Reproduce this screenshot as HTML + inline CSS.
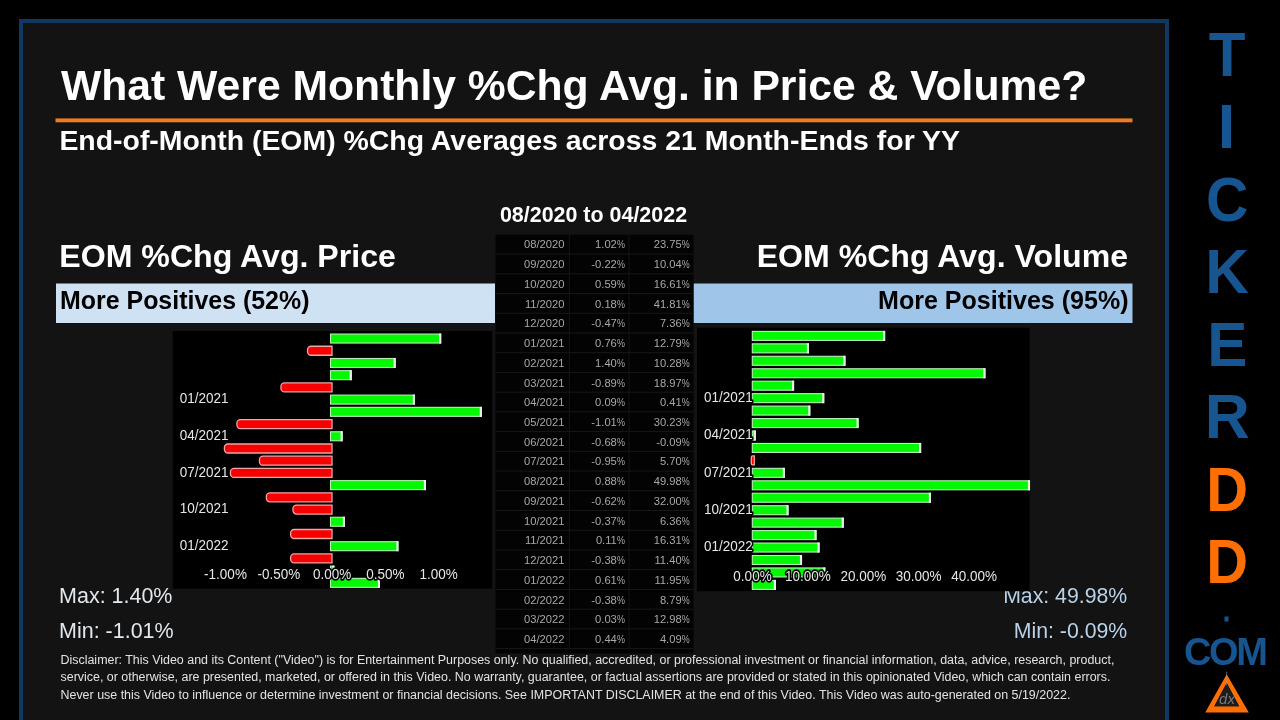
<!DOCTYPE html>
<html><head><meta charset="utf-8"><style>
html,body{margin:0;padding:0;background:#000;width:1280px;height:720px;overflow:hidden}
svg{display:block;will-change:transform}
text{font-family:"Liberation Sans", sans-serif}
</style></head><body>
<svg width="1280" height="720" viewBox="0 0 1280 720">
<rect x="0" y="0" width="1280" height="720" fill="#000"/>
<rect x="21" y="21" width="1146" height="720" fill="#131313" stroke="#0f3862" stroke-width="4"/>
<text x="61" y="99.5" font-size="42.67" fill="#fff" font-weight="bold" text-anchor="start" >What Were Monthly %Chg Avg. in Price &amp; Volume?</text>
<rect x="55.5" y="118.4" width="1077" height="3.9" fill="#ef7a22"/>
<text x="59.4" y="150" font-size="28.43" fill="#fff" font-weight="bold" text-anchor="start" >End-of-Month (EOM) %Chg Averages across 21 Month-Ends for YY</text>
<text x="593.5" y="221.7" font-size="21.45" fill="#fff" font-weight="bold" text-anchor="middle" >08/2020 to 04/2022</text>
<text x="59.3" y="267" font-size="32.12" fill="#fff" font-weight="bold" text-anchor="start" >EOM %Chg Avg. Price</text>
<text x="1128" y="267" font-size="32.1" fill="#fff" font-weight="bold" text-anchor="end" >EOM %Chg Avg. Volume</text>
<rect x="56" y="283.5" width="439" height="39.5" fill="#cfe2f3"/>
<rect x="693.5" y="283.5" width="439" height="39.5" fill="#9fc5e8"/>
<text x="60" y="309" font-size="24.95" fill="#000" font-weight="bold" text-anchor="start" >More Positives (52%)</text>
<text x="1128.5" y="309" font-size="25.04" fill="#000" font-weight="bold" text-anchor="end" >More Positives (95%)</text>
<text x="59.1" y="603" font-size="21.47" fill="#e2e8ee" font-weight="normal" text-anchor="start" >Max: 1.40%</text>
<text x="59.1" y="637.5" font-size="21.47" fill="#e2e8ee" font-weight="normal" text-anchor="start" >Min: -1.01%</text>
<text x="1127.2" y="603" font-size="21.25" fill="#b9d3ea" font-weight="normal" text-anchor="end" >Max: 49.98%</text>
<text x="1127.2" y="637.5" font-size="21.25" fill="#b9d3ea" font-weight="normal" text-anchor="end" >Min: -0.09%</text>
<rect x="495.5" y="234.8" width="198" height="418.53" fill="#030303"/>
<rect x="495.5" y="253.53" width="198" height="1" fill="#181818"/>
<rect x="495.5" y="273.26" width="198" height="1" fill="#181818"/>
<rect x="495.5" y="292.99" width="198" height="1" fill="#181818"/>
<rect x="495.5" y="312.72" width="198" height="1" fill="#181818"/>
<rect x="495.5" y="332.45000000000005" width="198" height="1" fill="#181818"/>
<rect x="495.5" y="352.18" width="198" height="1" fill="#181818"/>
<rect x="495.5" y="371.91" width="198" height="1" fill="#181818"/>
<rect x="495.5" y="391.64" width="198" height="1" fill="#181818"/>
<rect x="495.5" y="411.37" width="198" height="1" fill="#181818"/>
<rect x="495.5" y="431.1" width="198" height="1" fill="#181818"/>
<rect x="495.5" y="450.83000000000004" width="198" height="1" fill="#181818"/>
<rect x="495.5" y="470.56" width="198" height="1" fill="#181818"/>
<rect x="495.5" y="490.29" width="198" height="1" fill="#181818"/>
<rect x="495.5" y="510.02000000000004" width="198" height="1" fill="#181818"/>
<rect x="495.5" y="529.75" width="198" height="1" fill="#181818"/>
<rect x="495.5" y="549.48" width="198" height="1" fill="#181818"/>
<rect x="495.5" y="569.21" width="198" height="1" fill="#181818"/>
<rect x="495.5" y="588.94" width="198" height="1" fill="#181818"/>
<rect x="495.5" y="608.6700000000001" width="198" height="1" fill="#181818"/>
<rect x="495.5" y="628.4000000000001" width="198" height="1" fill="#181818"/>
<rect x="495.5" y="648.13" width="198" height="1" fill="#181818"/>
<rect x="568.8" y="234.8" width="1" height="414.33" fill="#141414"/>
<rect x="628.5" y="234.8" width="1" height="414.33" fill="#141414"/>
<text transform="translate(564.5,248.4) scale(1,1.04)" x="0" y="0" font-size="11.2" fill="#a8a8a8" font-weight="normal" text-anchor="end" >08/2020</text>
<text transform="translate(624.90,248.40) scale(0.8,1.04)" x="0" y="0" font-size="11.2" fill="#a8a8a8" text-anchor="end">%</text>
<text transform="translate(616.84,248.4) scale(1,1.04)" x="0" y="0" font-size="11.2" fill="#a8a8a8" font-weight="normal" text-anchor="end" >1.02</text>
<text transform="translate(689.70,248.40) scale(0.8,1.04)" x="0" y="0" font-size="11.2" fill="#a8a8a8" text-anchor="end">%</text>
<text transform="translate(681.64,248.4) scale(1,1.04)" x="0" y="0" font-size="11.2" fill="#a8a8a8" font-weight="normal" text-anchor="end" >23.75</text>
<text transform="translate(564.5,268.13) scale(1,1.04)" x="0" y="0" font-size="11.2" fill="#a8a8a8" font-weight="normal" text-anchor="end" >09/2020</text>
<text transform="translate(624.90,268.13) scale(0.8,1.04)" x="0" y="0" font-size="11.2" fill="#a8a8a8" text-anchor="end">%</text>
<text transform="translate(616.84,268.13) scale(1,1.04)" x="0" y="0" font-size="11.2" fill="#a8a8a8" font-weight="normal" text-anchor="end" >-0.22</text>
<text transform="translate(689.70,268.13) scale(0.8,1.04)" x="0" y="0" font-size="11.2" fill="#a8a8a8" text-anchor="end">%</text>
<text transform="translate(681.64,268.13) scale(1,1.04)" x="0" y="0" font-size="11.2" fill="#a8a8a8" font-weight="normal" text-anchor="end" >10.04</text>
<text transform="translate(564.5,287.86) scale(1,1.04)" x="0" y="0" font-size="11.2" fill="#a8a8a8" font-weight="normal" text-anchor="end" >10/2020</text>
<text transform="translate(624.90,287.86) scale(0.8,1.04)" x="0" y="0" font-size="11.2" fill="#a8a8a8" text-anchor="end">%</text>
<text transform="translate(616.84,287.86) scale(1,1.04)" x="0" y="0" font-size="11.2" fill="#a8a8a8" font-weight="normal" text-anchor="end" >0.59</text>
<text transform="translate(689.70,287.86) scale(0.8,1.04)" x="0" y="0" font-size="11.2" fill="#a8a8a8" text-anchor="end">%</text>
<text transform="translate(681.64,287.86) scale(1,1.04)" x="0" y="0" font-size="11.2" fill="#a8a8a8" font-weight="normal" text-anchor="end" >16.61</text>
<text transform="translate(564.5,307.59000000000003) scale(1,1.04)" x="0" y="0" font-size="11.2" fill="#a8a8a8" font-weight="normal" text-anchor="end" >11/2020</text>
<text transform="translate(624.90,307.59) scale(0.8,1.04)" x="0" y="0" font-size="11.2" fill="#a8a8a8" text-anchor="end">%</text>
<text transform="translate(616.84,307.59000000000003) scale(1,1.04)" x="0" y="0" font-size="11.2" fill="#a8a8a8" font-weight="normal" text-anchor="end" >0.18</text>
<text transform="translate(689.70,307.59) scale(0.8,1.04)" x="0" y="0" font-size="11.2" fill="#a8a8a8" text-anchor="end">%</text>
<text transform="translate(681.64,307.59000000000003) scale(1,1.04)" x="0" y="0" font-size="11.2" fill="#a8a8a8" font-weight="normal" text-anchor="end" >41.81</text>
<text transform="translate(564.5,327.32000000000005) scale(1,1.04)" x="0" y="0" font-size="11.2" fill="#a8a8a8" font-weight="normal" text-anchor="end" >12/2020</text>
<text transform="translate(624.90,327.32) scale(0.8,1.04)" x="0" y="0" font-size="11.2" fill="#a8a8a8" text-anchor="end">%</text>
<text transform="translate(616.84,327.32000000000005) scale(1,1.04)" x="0" y="0" font-size="11.2" fill="#a8a8a8" font-weight="normal" text-anchor="end" >-0.47</text>
<text transform="translate(689.70,327.32) scale(0.8,1.04)" x="0" y="0" font-size="11.2" fill="#a8a8a8" text-anchor="end">%</text>
<text transform="translate(681.64,327.32000000000005) scale(1,1.04)" x="0" y="0" font-size="11.2" fill="#a8a8a8" font-weight="normal" text-anchor="end" >7.36</text>
<text transform="translate(564.5,347.05000000000007) scale(1,1.04)" x="0" y="0" font-size="11.2" fill="#a8a8a8" font-weight="normal" text-anchor="end" >01/2021</text>
<text transform="translate(624.90,347.05) scale(0.8,1.04)" x="0" y="0" font-size="11.2" fill="#a8a8a8" text-anchor="end">%</text>
<text transform="translate(616.84,347.05000000000007) scale(1,1.04)" x="0" y="0" font-size="11.2" fill="#a8a8a8" font-weight="normal" text-anchor="end" >0.76</text>
<text transform="translate(689.70,347.05) scale(0.8,1.04)" x="0" y="0" font-size="11.2" fill="#a8a8a8" text-anchor="end">%</text>
<text transform="translate(681.64,347.05000000000007) scale(1,1.04)" x="0" y="0" font-size="11.2" fill="#a8a8a8" font-weight="normal" text-anchor="end" >12.79</text>
<text transform="translate(564.5,366.78000000000003) scale(1,1.04)" x="0" y="0" font-size="11.2" fill="#a8a8a8" font-weight="normal" text-anchor="end" >02/2021</text>
<text transform="translate(624.90,366.78) scale(0.8,1.04)" x="0" y="0" font-size="11.2" fill="#a8a8a8" text-anchor="end">%</text>
<text transform="translate(616.84,366.78000000000003) scale(1,1.04)" x="0" y="0" font-size="11.2" fill="#a8a8a8" font-weight="normal" text-anchor="end" >1.40</text>
<text transform="translate(689.70,366.78) scale(0.8,1.04)" x="0" y="0" font-size="11.2" fill="#a8a8a8" text-anchor="end">%</text>
<text transform="translate(681.64,366.78000000000003) scale(1,1.04)" x="0" y="0" font-size="11.2" fill="#a8a8a8" font-weight="normal" text-anchor="end" >10.28</text>
<text transform="translate(564.5,386.51000000000005) scale(1,1.04)" x="0" y="0" font-size="11.2" fill="#a8a8a8" font-weight="normal" text-anchor="end" >03/2021</text>
<text transform="translate(624.90,386.51) scale(0.8,1.04)" x="0" y="0" font-size="11.2" fill="#a8a8a8" text-anchor="end">%</text>
<text transform="translate(616.84,386.51000000000005) scale(1,1.04)" x="0" y="0" font-size="11.2" fill="#a8a8a8" font-weight="normal" text-anchor="end" >-0.89</text>
<text transform="translate(689.70,386.51) scale(0.8,1.04)" x="0" y="0" font-size="11.2" fill="#a8a8a8" text-anchor="end">%</text>
<text transform="translate(681.64,386.51000000000005) scale(1,1.04)" x="0" y="0" font-size="11.2" fill="#a8a8a8" font-weight="normal" text-anchor="end" >18.97</text>
<text transform="translate(564.5,406.24) scale(1,1.04)" x="0" y="0" font-size="11.2" fill="#a8a8a8" font-weight="normal" text-anchor="end" >04/2021</text>
<text transform="translate(624.90,406.24) scale(0.8,1.04)" x="0" y="0" font-size="11.2" fill="#a8a8a8" text-anchor="end">%</text>
<text transform="translate(616.84,406.24) scale(1,1.04)" x="0" y="0" font-size="11.2" fill="#a8a8a8" font-weight="normal" text-anchor="end" >0.09</text>
<text transform="translate(689.70,406.24) scale(0.8,1.04)" x="0" y="0" font-size="11.2" fill="#a8a8a8" text-anchor="end">%</text>
<text transform="translate(681.64,406.24) scale(1,1.04)" x="0" y="0" font-size="11.2" fill="#a8a8a8" font-weight="normal" text-anchor="end" >0.41</text>
<text transform="translate(564.5,425.97) scale(1,1.04)" x="0" y="0" font-size="11.2" fill="#a8a8a8" font-weight="normal" text-anchor="end" >05/2021</text>
<text transform="translate(624.90,425.97) scale(0.8,1.04)" x="0" y="0" font-size="11.2" fill="#a8a8a8" text-anchor="end">%</text>
<text transform="translate(616.84,425.97) scale(1,1.04)" x="0" y="0" font-size="11.2" fill="#a8a8a8" font-weight="normal" text-anchor="end" >-1.01</text>
<text transform="translate(689.70,425.97) scale(0.8,1.04)" x="0" y="0" font-size="11.2" fill="#a8a8a8" text-anchor="end">%</text>
<text transform="translate(681.64,425.97) scale(1,1.04)" x="0" y="0" font-size="11.2" fill="#a8a8a8" font-weight="normal" text-anchor="end" >30.23</text>
<text transform="translate(564.5,445.70000000000005) scale(1,1.04)" x="0" y="0" font-size="11.2" fill="#a8a8a8" font-weight="normal" text-anchor="end" >06/2021</text>
<text transform="translate(624.90,445.70) scale(0.8,1.04)" x="0" y="0" font-size="11.2" fill="#a8a8a8" text-anchor="end">%</text>
<text transform="translate(616.84,445.70000000000005) scale(1,1.04)" x="0" y="0" font-size="11.2" fill="#a8a8a8" font-weight="normal" text-anchor="end" >-0.68</text>
<text transform="translate(689.70,445.70) scale(0.8,1.04)" x="0" y="0" font-size="11.2" fill="#a8a8a8" text-anchor="end">%</text>
<text transform="translate(681.64,445.70000000000005) scale(1,1.04)" x="0" y="0" font-size="11.2" fill="#a8a8a8" font-weight="normal" text-anchor="end" >-0.09</text>
<text transform="translate(564.5,465.43000000000006) scale(1,1.04)" x="0" y="0" font-size="11.2" fill="#a8a8a8" font-weight="normal" text-anchor="end" >07/2021</text>
<text transform="translate(624.90,465.43) scale(0.8,1.04)" x="0" y="0" font-size="11.2" fill="#a8a8a8" text-anchor="end">%</text>
<text transform="translate(616.84,465.43000000000006) scale(1,1.04)" x="0" y="0" font-size="11.2" fill="#a8a8a8" font-weight="normal" text-anchor="end" >-0.95</text>
<text transform="translate(689.70,465.43) scale(0.8,1.04)" x="0" y="0" font-size="11.2" fill="#a8a8a8" text-anchor="end">%</text>
<text transform="translate(681.64,465.43000000000006) scale(1,1.04)" x="0" y="0" font-size="11.2" fill="#a8a8a8" font-weight="normal" text-anchor="end" >5.70</text>
<text transform="translate(564.5,485.16) scale(1,1.04)" x="0" y="0" font-size="11.2" fill="#a8a8a8" font-weight="normal" text-anchor="end" >08/2021</text>
<text transform="translate(624.90,485.16) scale(0.8,1.04)" x="0" y="0" font-size="11.2" fill="#a8a8a8" text-anchor="end">%</text>
<text transform="translate(616.84,485.16) scale(1,1.04)" x="0" y="0" font-size="11.2" fill="#a8a8a8" font-weight="normal" text-anchor="end" >0.88</text>
<text transform="translate(689.70,485.16) scale(0.8,1.04)" x="0" y="0" font-size="11.2" fill="#a8a8a8" text-anchor="end">%</text>
<text transform="translate(681.64,485.16) scale(1,1.04)" x="0" y="0" font-size="11.2" fill="#a8a8a8" font-weight="normal" text-anchor="end" >49.98</text>
<text transform="translate(564.5,504.89000000000004) scale(1,1.04)" x="0" y="0" font-size="11.2" fill="#a8a8a8" font-weight="normal" text-anchor="end" >09/2021</text>
<text transform="translate(624.90,504.89) scale(0.8,1.04)" x="0" y="0" font-size="11.2" fill="#a8a8a8" text-anchor="end">%</text>
<text transform="translate(616.84,504.89000000000004) scale(1,1.04)" x="0" y="0" font-size="11.2" fill="#a8a8a8" font-weight="normal" text-anchor="end" >-0.62</text>
<text transform="translate(689.70,504.89) scale(0.8,1.04)" x="0" y="0" font-size="11.2" fill="#a8a8a8" text-anchor="end">%</text>
<text transform="translate(681.64,504.89000000000004) scale(1,1.04)" x="0" y="0" font-size="11.2" fill="#a8a8a8" font-weight="normal" text-anchor="end" >32.00</text>
<text transform="translate(564.5,524.62) scale(1,1.04)" x="0" y="0" font-size="11.2" fill="#a8a8a8" font-weight="normal" text-anchor="end" >10/2021</text>
<text transform="translate(624.90,524.62) scale(0.8,1.04)" x="0" y="0" font-size="11.2" fill="#a8a8a8" text-anchor="end">%</text>
<text transform="translate(616.84,524.62) scale(1,1.04)" x="0" y="0" font-size="11.2" fill="#a8a8a8" font-weight="normal" text-anchor="end" >-0.37</text>
<text transform="translate(689.70,524.62) scale(0.8,1.04)" x="0" y="0" font-size="11.2" fill="#a8a8a8" text-anchor="end">%</text>
<text transform="translate(681.64,524.62) scale(1,1.04)" x="0" y="0" font-size="11.2" fill="#a8a8a8" font-weight="normal" text-anchor="end" >6.36</text>
<text transform="translate(564.5,544.35) scale(1,1.04)" x="0" y="0" font-size="11.2" fill="#a8a8a8" font-weight="normal" text-anchor="end" >11/2021</text>
<text transform="translate(624.90,544.35) scale(0.8,1.04)" x="0" y="0" font-size="11.2" fill="#a8a8a8" text-anchor="end">%</text>
<text transform="translate(616.84,544.35) scale(1,1.04)" x="0" y="0" font-size="11.2" fill="#a8a8a8" font-weight="normal" text-anchor="end" >0.11</text>
<text transform="translate(689.70,544.35) scale(0.8,1.04)" x="0" y="0" font-size="11.2" fill="#a8a8a8" text-anchor="end">%</text>
<text transform="translate(681.64,544.35) scale(1,1.04)" x="0" y="0" font-size="11.2" fill="#a8a8a8" font-weight="normal" text-anchor="end" >16.31</text>
<text transform="translate(564.5,564.08) scale(1,1.04)" x="0" y="0" font-size="11.2" fill="#a8a8a8" font-weight="normal" text-anchor="end" >12/2021</text>
<text transform="translate(624.90,564.08) scale(0.8,1.04)" x="0" y="0" font-size="11.2" fill="#a8a8a8" text-anchor="end">%</text>
<text transform="translate(616.84,564.08) scale(1,1.04)" x="0" y="0" font-size="11.2" fill="#a8a8a8" font-weight="normal" text-anchor="end" >-0.38</text>
<text transform="translate(689.70,564.08) scale(0.8,1.04)" x="0" y="0" font-size="11.2" fill="#a8a8a8" text-anchor="end">%</text>
<text transform="translate(681.64,564.08) scale(1,1.04)" x="0" y="0" font-size="11.2" fill="#a8a8a8" font-weight="normal" text-anchor="end" >11.40</text>
<text transform="translate(564.5,583.8100000000001) scale(1,1.04)" x="0" y="0" font-size="11.2" fill="#a8a8a8" font-weight="normal" text-anchor="end" >01/2022</text>
<text transform="translate(624.90,583.81) scale(0.8,1.04)" x="0" y="0" font-size="11.2" fill="#a8a8a8" text-anchor="end">%</text>
<text transform="translate(616.84,583.8100000000001) scale(1,1.04)" x="0" y="0" font-size="11.2" fill="#a8a8a8" font-weight="normal" text-anchor="end" >0.61</text>
<text transform="translate(689.70,583.81) scale(0.8,1.04)" x="0" y="0" font-size="11.2" fill="#a8a8a8" text-anchor="end">%</text>
<text transform="translate(681.64,583.8100000000001) scale(1,1.04)" x="0" y="0" font-size="11.2" fill="#a8a8a8" font-weight="normal" text-anchor="end" >11.95</text>
<text transform="translate(564.5,603.5400000000001) scale(1,1.04)" x="0" y="0" font-size="11.2" fill="#a8a8a8" font-weight="normal" text-anchor="end" >02/2022</text>
<text transform="translate(624.90,603.54) scale(0.8,1.04)" x="0" y="0" font-size="11.2" fill="#a8a8a8" text-anchor="end">%</text>
<text transform="translate(616.84,603.5400000000001) scale(1,1.04)" x="0" y="0" font-size="11.2" fill="#a8a8a8" font-weight="normal" text-anchor="end" >-0.38</text>
<text transform="translate(689.70,603.54) scale(0.8,1.04)" x="0" y="0" font-size="11.2" fill="#a8a8a8" text-anchor="end">%</text>
<text transform="translate(681.64,603.5400000000001) scale(1,1.04)" x="0" y="0" font-size="11.2" fill="#a8a8a8" font-weight="normal" text-anchor="end" >8.79</text>
<text transform="translate(564.5,623.2700000000001) scale(1,1.04)" x="0" y="0" font-size="11.2" fill="#a8a8a8" font-weight="normal" text-anchor="end" >03/2022</text>
<text transform="translate(624.90,623.27) scale(0.8,1.04)" x="0" y="0" font-size="11.2" fill="#a8a8a8" text-anchor="end">%</text>
<text transform="translate(616.84,623.2700000000001) scale(1,1.04)" x="0" y="0" font-size="11.2" fill="#a8a8a8" font-weight="normal" text-anchor="end" >0.03</text>
<text transform="translate(689.70,623.27) scale(0.8,1.04)" x="0" y="0" font-size="11.2" fill="#a8a8a8" text-anchor="end">%</text>
<text transform="translate(681.64,623.2700000000001) scale(1,1.04)" x="0" y="0" font-size="11.2" fill="#a8a8a8" font-weight="normal" text-anchor="end" >12.98</text>
<text transform="translate(564.5,643.0000000000001) scale(1,1.04)" x="0" y="0" font-size="11.2" fill="#a8a8a8" font-weight="normal" text-anchor="end" >04/2022</text>
<text transform="translate(624.90,643.00) scale(0.8,1.04)" x="0" y="0" font-size="11.2" fill="#a8a8a8" text-anchor="end">%</text>
<text transform="translate(616.84,643.0000000000001) scale(1,1.04)" x="0" y="0" font-size="11.2" fill="#a8a8a8" font-weight="normal" text-anchor="end" >0.44</text>
<text transform="translate(689.70,643.00) scale(0.8,1.04)" x="0" y="0" font-size="11.2" fill="#a8a8a8" text-anchor="end">%</text>
<text transform="translate(681.64,643.0000000000001) scale(1,1.04)" x="0" y="0" font-size="11.2" fill="#a8a8a8" font-weight="normal" text-anchor="end" >4.09</text>
<rect x="172.75" y="331" width="319.5" height="257.7" fill="#000"/>
<rect x="330.50" y="334.05" width="110.20" height="9.00" fill="#04f804" stroke="#b4f2b4" stroke-width="1.1"/>
<rect x="439.10" y="333.55" width="2.1" height="10.00" fill="#e6f6e6"/>
<path d="M311.05 346.26 H332.00 V355.26 H311.05 A3.5 3.5 0 0 1 307.55 351.76 V349.76 A3.5 3.5 0 0 1 311.05 346.26 Z" fill="#f60000" stroke="#f0a4a4" stroke-width="1.3"/>
<rect x="330.50" y="358.48" width="64.70" height="9.00" fill="#04f804" stroke="#b4f2b4" stroke-width="1.1"/>
<rect x="393.60" y="357.98" width="2.1" height="10.00" fill="#e6f6e6"/>
<rect x="330.50" y="370.69" width="20.75" height="9.00" fill="#04f804" stroke="#b4f2b4" stroke-width="1.1"/>
<rect x="349.65" y="370.19" width="2.1" height="10.00" fill="#e6f6e6"/>
<path d="M284.45 382.91 H332.00 V391.91 H284.45 A3.5 3.5 0 0 1 280.95 388.41 V386.41 A3.5 3.5 0 0 1 284.45 382.91 Z" fill="#f60000" stroke="#f0a4a4" stroke-width="1.3"/>
<rect x="330.50" y="395.12" width="83.95" height="9.00" fill="#04f804" stroke="#b4f2b4" stroke-width="1.1"/>
<rect x="412.85" y="394.62" width="2.1" height="10.00" fill="#e6f6e6"/>
<rect x="330.50" y="407.34" width="150.85" height="9.00" fill="#04f804" stroke="#b4f2b4" stroke-width="1.1"/>
<rect x="479.75" y="406.84" width="2.1" height="10.00" fill="#e6f6e6"/>
<path d="M240.40 419.56 H332.00 V428.56 H240.40 A3.5 3.5 0 0 1 236.90 425.06 V423.06 A3.5 3.5 0 0 1 240.40 419.56 Z" fill="#f60000" stroke="#f0a4a4" stroke-width="1.3"/>
<rect x="330.50" y="431.77" width="11.65" height="9.00" fill="#04f804" stroke="#b4f2b4" stroke-width="1.1"/>
<rect x="340.55" y="431.27" width="2.1" height="10.00" fill="#e6f6e6"/>
<path d="M227.90 443.99 H332.00 V452.99 H227.90 A3.5 3.5 0 0 1 224.40 449.49 V447.49 A3.5 3.5 0 0 1 227.90 443.99 Z" fill="#f60000" stroke="#f0a4a4" stroke-width="1.3"/>
<path d="M262.95 456.20 H332.00 V465.20 H262.95 A3.5 3.5 0 0 1 259.45 461.70 V459.70 A3.5 3.5 0 0 1 262.95 456.20 Z" fill="#f60000" stroke="#f0a4a4" stroke-width="1.3"/>
<path d="M233.95 468.42 H332.00 V477.42 H233.95 A3.5 3.5 0 0 1 230.45 473.92 V471.92 A3.5 3.5 0 0 1 233.95 468.42 Z" fill="#f60000" stroke="#f0a4a4" stroke-width="1.3"/>
<rect x="330.50" y="480.63" width="94.95" height="9.00" fill="#04f804" stroke="#b4f2b4" stroke-width="1.1"/>
<rect x="423.85" y="480.13" width="2.1" height="10.00" fill="#e6f6e6"/>
<path d="M269.85 492.85 H332.00 V501.85 H269.85 A3.5 3.5 0 0 1 266.35 498.35 V496.35 A3.5 3.5 0 0 1 269.85 492.85 Z" fill="#f60000" stroke="#f0a4a4" stroke-width="1.3"/>
<path d="M296.45 505.06 H332.00 V514.06 H296.45 A3.5 3.5 0 0 1 292.95 510.56 V508.56 A3.5 3.5 0 0 1 296.45 505.06 Z" fill="#f60000" stroke="#f0a4a4" stroke-width="1.3"/>
<rect x="330.50" y="517.27" width="13.95" height="9.00" fill="#04f804" stroke="#b4f2b4" stroke-width="1.1"/>
<rect x="342.85" y="516.77" width="2.1" height="10.00" fill="#e6f6e6"/>
<path d="M294.15 529.49 H332.00 V538.49 H294.15 A3.5 3.5 0 0 1 290.65 534.99 V532.99 A3.5 3.5 0 0 1 294.15 529.49 Z" fill="#f60000" stroke="#f0a4a4" stroke-width="1.3"/>
<rect x="330.50" y="541.71" width="67.45" height="9.00" fill="#04f804" stroke="#b4f2b4" stroke-width="1.1"/>
<rect x="396.35" y="541.21" width="2.1" height="10.00" fill="#e6f6e6"/>
<path d="M294.15 553.92 H332.00 V562.92 H294.15 A3.5 3.5 0 0 1 290.65 559.42 V557.42 A3.5 3.5 0 0 1 294.15 553.92 Z" fill="#f60000" stroke="#f0a4a4" stroke-width="1.3"/>
<rect x="330.50" y="566.13" width="3.45" height="9.00" fill="#04f804" stroke="#b4f2b4" stroke-width="1.1"/>
<rect x="332.35" y="565.63" width="2.1" height="10.00" fill="#e6f6e6"/>
<rect x="330.50" y="578.35" width="48.95" height="9.00" fill="#04f804" stroke="#b4f2b4" stroke-width="1.1"/>
<rect x="377.85" y="577.85" width="2.1" height="10.00" fill="#e6f6e6"/>
<text transform="translate(228.5,403.275) scale(1,1.12)" x="0" y="0" font-size="13.5" fill="#e6e6e6" font-weight="normal" text-anchor="end" stroke="#000" stroke-width="3" stroke-linejoin="round" paint-order="stroke">01/2021</text>
<text transform="translate(228.5,439.91999999999996) scale(1,1.12)" x="0" y="0" font-size="13.5" fill="#e6e6e6" font-weight="normal" text-anchor="end" stroke="#000" stroke-width="3" stroke-linejoin="round" paint-order="stroke">04/2021</text>
<text transform="translate(228.5,476.565) scale(1,1.12)" x="0" y="0" font-size="13.5" fill="#e6e6e6" font-weight="normal" text-anchor="end" stroke="#000" stroke-width="3" stroke-linejoin="round" paint-order="stroke">07/2021</text>
<text transform="translate(228.5,513.21) scale(1,1.12)" x="0" y="0" font-size="13.5" fill="#e6e6e6" font-weight="normal" text-anchor="end" stroke="#000" stroke-width="3" stroke-linejoin="round" paint-order="stroke">10/2021</text>
<text transform="translate(228.5,549.855) scale(1,1.12)" x="0" y="0" font-size="13.5" fill="#e6e6e6" font-weight="normal" text-anchor="end" stroke="#000" stroke-width="3" stroke-linejoin="round" paint-order="stroke">01/2022</text>
<text transform="translate(225.5,578.6) scale(1,1.12)" x="0" y="0" font-size="13.5" fill="#e6e6e6" font-weight="normal" text-anchor="middle" stroke="#000" stroke-width="3" stroke-linejoin="round" paint-order="stroke">-1.00%</text>
<text transform="translate(278.8,578.6) scale(1,1.12)" x="0" y="0" font-size="13.5" fill="#e6e6e6" font-weight="normal" text-anchor="middle" stroke="#000" stroke-width="3" stroke-linejoin="round" paint-order="stroke">-0.50%</text>
<text transform="translate(332.1,578.6) scale(1,1.12)" x="0" y="0" font-size="13.5" fill="#e6e6e6" font-weight="normal" text-anchor="middle" stroke="#000" stroke-width="3" stroke-linejoin="round" paint-order="stroke">0.00%</text>
<text transform="translate(385.4,578.6) scale(1,1.12)" x="0" y="0" font-size="13.5" fill="#e6e6e6" font-weight="normal" text-anchor="middle" stroke="#000" stroke-width="3" stroke-linejoin="round" paint-order="stroke">0.50%</text>
<text transform="translate(438.7,578.6) scale(1,1.12)" x="0" y="0" font-size="13.5" fill="#e6e6e6" font-weight="normal" text-anchor="middle" stroke="#000" stroke-width="3" stroke-linejoin="round" paint-order="stroke">1.00%</text>
<rect x="697" y="327.7" width="332.5" height="263.5" fill="#000"/>
<rect x="752.30" y="331.40" width="132.33" height="9.00" fill="#04f804" stroke="#b4f2b4" stroke-width="1.1"/>
<rect x="883.03" y="330.90" width="2.1" height="10.00" fill="#e6f6e6"/>
<rect x="752.30" y="343.85" width="56.17" height="9.00" fill="#04f804" stroke="#b4f2b4" stroke-width="1.1"/>
<rect x="806.87" y="343.35" width="2.1" height="10.00" fill="#e6f6e6"/>
<rect x="752.30" y="356.30" width="92.67" height="9.00" fill="#04f804" stroke="#b4f2b4" stroke-width="1.1"/>
<rect x="843.37" y="355.80" width="2.1" height="10.00" fill="#e6f6e6"/>
<rect x="752.30" y="368.75" width="232.65" height="9.00" fill="#04f804" stroke="#b4f2b4" stroke-width="1.1"/>
<rect x="983.35" y="368.25" width="2.1" height="10.00" fill="#e6f6e6"/>
<rect x="752.30" y="381.20" width="41.28" height="9.00" fill="#04f804" stroke="#b4f2b4" stroke-width="1.1"/>
<rect x="791.98" y="380.70" width="2.1" height="10.00" fill="#e6f6e6"/>
<rect x="752.30" y="393.65" width="71.45" height="9.00" fill="#04f804" stroke="#b4f2b4" stroke-width="1.1"/>
<rect x="822.15" y="393.15" width="2.1" height="10.00" fill="#e6f6e6"/>
<rect x="752.30" y="406.10" width="57.51" height="9.00" fill="#04f804" stroke="#b4f2b4" stroke-width="1.1"/>
<rect x="808.21" y="405.60" width="2.1" height="10.00" fill="#e6f6e6"/>
<rect x="752.30" y="418.55" width="105.78" height="9.00" fill="#04f804" stroke="#b4f2b4" stroke-width="1.1"/>
<rect x="856.48" y="418.05" width="2.1" height="10.00" fill="#e6f6e6"/>
<rect x="752.30" y="431.00" width="3.00" height="9.00" fill="#04f804" stroke="#b4f2b4" stroke-width="1.1"/>
<rect x="753.70" y="430.50" width="2.1" height="10.00" fill="#e6f6e6"/>
<rect x="752.30" y="443.45" width="168.33" height="9.00" fill="#04f804" stroke="#b4f2b4" stroke-width="1.1"/>
<rect x="919.03" y="442.95" width="2.1" height="10.00" fill="#e6f6e6"/>
<path d="M752.80 455.90 H754.30 V464.90 H752.80 A1.5 1.5 0 0 1 751.30 463.40 V457.40 A1.5 1.5 0 0 1 752.80 455.90 Z" fill="#f60000" stroke="#f0a4a4" stroke-width="1.3"/>
<rect x="752.30" y="468.35" width="32.06" height="9.00" fill="#04f804" stroke="#b4f2b4" stroke-width="1.1"/>
<rect x="782.76" y="467.85" width="2.1" height="10.00" fill="#e6f6e6"/>
<rect x="752.30" y="480.80" width="277.20" height="9.00" fill="#04f804" stroke="#b4f2b4" stroke-width="1.1"/>
<rect x="1027.90" y="480.30" width="2.1" height="10.00" fill="#e6f6e6"/>
<rect x="752.30" y="493.25" width="178.16" height="9.00" fill="#04f804" stroke="#b4f2b4" stroke-width="1.1"/>
<rect x="928.86" y="492.75" width="2.1" height="10.00" fill="#e6f6e6"/>
<rect x="752.30" y="505.70" width="35.73" height="9.00" fill="#04f804" stroke="#b4f2b4" stroke-width="1.1"/>
<rect x="786.43" y="505.20" width="2.1" height="10.00" fill="#e6f6e6"/>
<rect x="752.30" y="518.15" width="91.00" height="9.00" fill="#04f804" stroke="#b4f2b4" stroke-width="1.1"/>
<rect x="841.70" y="517.65" width="2.1" height="10.00" fill="#e6f6e6"/>
<rect x="752.30" y="530.60" width="63.73" height="9.00" fill="#04f804" stroke="#b4f2b4" stroke-width="1.1"/>
<rect x="814.43" y="530.10" width="2.1" height="10.00" fill="#e6f6e6"/>
<rect x="752.30" y="543.05" width="66.78" height="9.00" fill="#04f804" stroke="#b4f2b4" stroke-width="1.1"/>
<rect x="817.48" y="542.55" width="2.1" height="10.00" fill="#e6f6e6"/>
<rect x="752.30" y="555.50" width="49.23" height="9.00" fill="#04f804" stroke="#b4f2b4" stroke-width="1.1"/>
<rect x="799.93" y="555.00" width="2.1" height="10.00" fill="#e6f6e6"/>
<rect x="752.30" y="567.95" width="72.50" height="9.00" fill="#04f804" stroke="#b4f2b4" stroke-width="1.1"/>
<rect x="823.20" y="567.45" width="2.1" height="10.00" fill="#e6f6e6"/>
<rect x="752.30" y="580.40" width="23.12" height="9.00" fill="#04f804" stroke="#b4f2b4" stroke-width="1.1"/>
<rect x="773.82" y="579.90" width="2.1" height="10.00" fill="#e6f6e6"/>
<text transform="translate(752.8,401.84999999999997) scale(1,1.12)" x="0" y="0" font-size="13.5" fill="#e6e6e6" font-weight="normal" text-anchor="end" stroke="#000" stroke-width="3" stroke-linejoin="round" paint-order="stroke">01/2021</text>
<text transform="translate(752.8,439.2) scale(1,1.12)" x="0" y="0" font-size="13.5" fill="#e6e6e6" font-weight="normal" text-anchor="end" stroke="#000" stroke-width="3" stroke-linejoin="round" paint-order="stroke">04/2021</text>
<text transform="translate(752.8,476.54999999999995) scale(1,1.12)" x="0" y="0" font-size="13.5" fill="#e6e6e6" font-weight="normal" text-anchor="end" stroke="#000" stroke-width="3" stroke-linejoin="round" paint-order="stroke">07/2021</text>
<text transform="translate(752.8,513.9) scale(1,1.12)" x="0" y="0" font-size="13.5" fill="#e6e6e6" font-weight="normal" text-anchor="end" stroke="#000" stroke-width="3" stroke-linejoin="round" paint-order="stroke">10/2021</text>
<text transform="translate(752.8,551.25) scale(1,1.12)" x="0" y="0" font-size="13.5" fill="#e6e6e6" font-weight="normal" text-anchor="end" stroke="#000" stroke-width="3" stroke-linejoin="round" paint-order="stroke">01/2022</text>
<text transform="translate(752.5,581) scale(1,1.12)" x="0" y="0" font-size="13.5" fill="#e6e6e6" font-weight="normal" text-anchor="middle" stroke="#000" stroke-width="3" stroke-linejoin="round" paint-order="stroke">0.00%</text>
<text transform="translate(807.9,581) scale(1,1.12)" x="0" y="0" font-size="13.5" fill="#e6e6e6" font-weight="normal" text-anchor="middle" stroke="#000" stroke-width="3" stroke-linejoin="round" paint-order="stroke">10.00%</text>
<text transform="translate(863.3,581) scale(1,1.12)" x="0" y="0" font-size="13.5" fill="#e6e6e6" font-weight="normal" text-anchor="middle" stroke="#000" stroke-width="3" stroke-linejoin="round" paint-order="stroke">20.00%</text>
<text transform="translate(918.7,581) scale(1,1.12)" x="0" y="0" font-size="13.5" fill="#e6e6e6" font-weight="normal" text-anchor="middle" stroke="#000" stroke-width="3" stroke-linejoin="round" paint-order="stroke">30.00%</text>
<text transform="translate(974.1,581) scale(1,1.12)" x="0" y="0" font-size="13.5" fill="#e6e6e6" font-weight="normal" text-anchor="middle" stroke="#000" stroke-width="3" stroke-linejoin="round" paint-order="stroke">40.00%</text>
<text x="60.5" y="664.0" font-size="12.45" fill="#e2e2e2" font-weight="normal" text-anchor="start" >Disclaimer: This Video and its Content (&quot;Video&quot;) is for Entertainment Purposes only. No qualified, accredited, or professional investment or financial information, data, advice, research, product,</text>
<text x="60.5" y="681.4" font-size="12.45" fill="#e2e2e2" font-weight="normal" text-anchor="start" >service, or otherwise, are presented, marketed, or offered in this Video. No warranty, guarantee, or factual assertions are provided or stated in this opinionated Video, which can contain errors.</text>
<text x="60.5" y="698.8" font-size="12.45" fill="#e2e2e2" font-weight="normal" text-anchor="start" >Never use this Video to influence or determine investment or financial decisions. See IMPORTANT DISCLAIMER at the end of this Video. This Video was auto-generated on 5/19/2022.</text>
<text transform="translate(1227.20,76.05) scale(0.955,1)" x="0" y="0" font-size="63" fill="#16558f" font-weight="bold" text-anchor="middle">T</text>
<text transform="translate(1226.40,147.51) scale(1.0,1)" x="0" y="0" font-size="63" fill="#16558f" font-weight="bold" text-anchor="middle">I</text>
<text transform="translate(1227.20,220.97) scale(0.93,1)" x="0" y="0" font-size="63" fill="#16558f" font-weight="bold" text-anchor="middle">C</text>
<text transform="translate(1227.20,293.43) scale(0.96,1)" x="0" y="0" font-size="63" fill="#16558f" font-weight="bold" text-anchor="middle">K</text>
<text transform="translate(1227.20,365.89) scale(0.955,1)" x="0" y="0" font-size="63" fill="#16558f" font-weight="bold" text-anchor="middle">E</text>
<text transform="translate(1227.20,438.35) scale(0.99,1)" x="0" y="0" font-size="63" fill="#16558f" font-weight="bold" text-anchor="middle">R</text>
<text transform="translate(1227.20,510.81) scale(0.92,1)" x="0" y="0" font-size="63" fill="#fd6e04" font-weight="bold" text-anchor="middle">D</text>
<text transform="translate(1227.20,583.27) scale(0.92,1)" x="0" y="0" font-size="63" fill="#fd6e04" font-weight="bold" text-anchor="middle">D</text>
<rect x="1224.5" y="616.5" width="4" height="5" fill="#16558f"/>
<text x="1224.8" y="664.5" font-size="38" fill="#16558f" font-weight="bold" text-anchor="middle" letter-spacing="-2.4">COM</text>
<path d="M1226.7 674.3 L1248.8 712.4 L1205.2 712.4 Z M1226.7 683 L1214.3 706.2 L1239.1 706.2 Z" fill="#fd6e04" fill-rule="evenodd"/>
<path d="M1226.7 683 L1214.3 706.2 L1239.1 706.2 Z" fill="#1c1c1c"/>
<text x="1227" y="704" font-size="15" fill="#7a7a7a" font-style="italic" text-anchor="middle" font-family="'Liberation Serif', serif">dx</text>
<rect x="1226.3" y="671.5" width="0.8" height="14" fill="#9a9a9a" opacity="0.7"/>
</svg></body></html>
